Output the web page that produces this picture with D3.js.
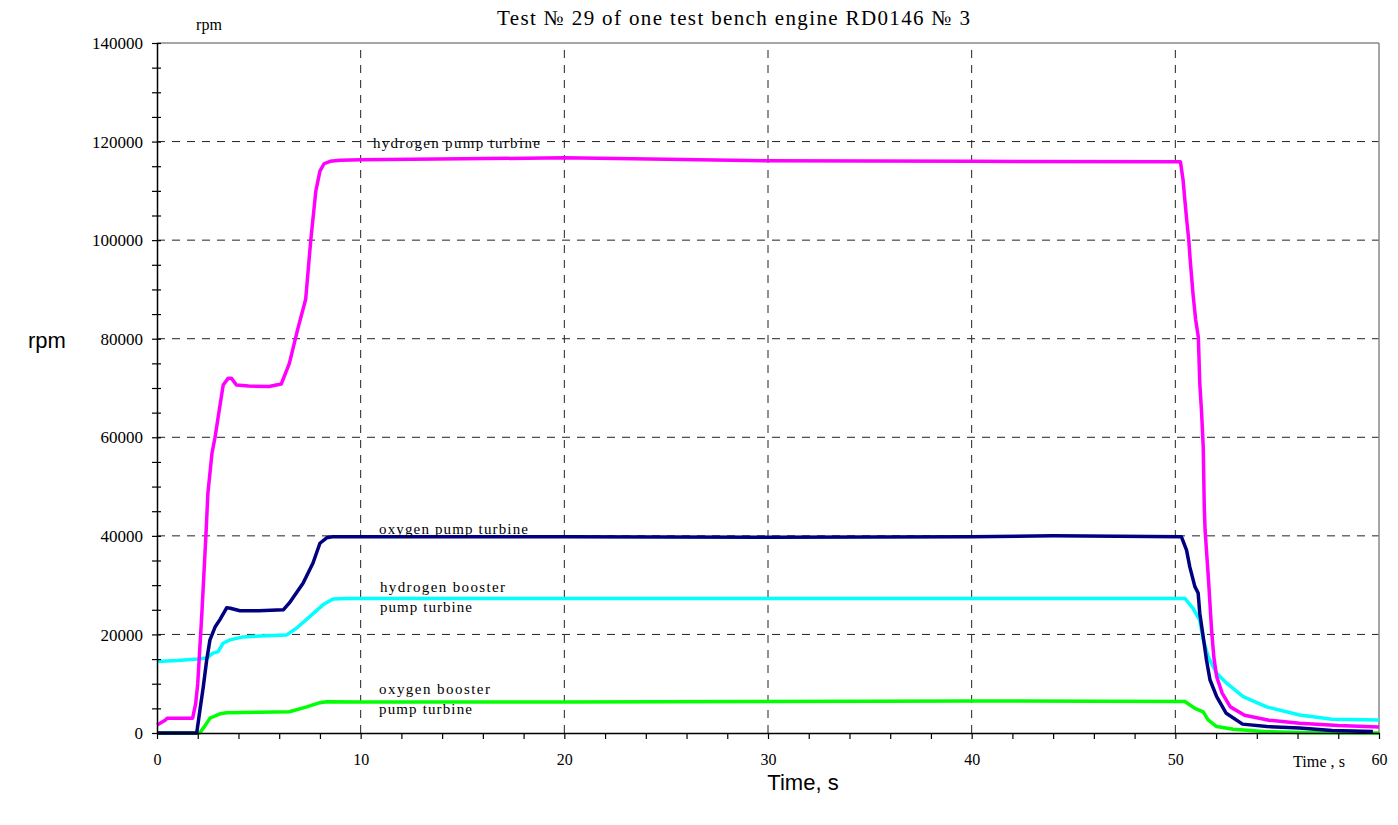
<!DOCTYPE html>
<html><head><meta charset="utf-8">
<script src="https://cdn.jsdelivr.net/npm/d3@7"></script>
<style>
html,body{margin:0;padding:0;background:#fff;}
svg{display:block;}
</style></head>
<body>
<svg id="chart" width="1398" height="825"></svg>
<script>
// ---- data ----
const titleText = "Test № 29 of one test bench engine RD0146 № 3";
const xTickLabels = [0, 10, 20, 30, 40, 50, 60];
const yTickLabels = [0, 20000, 40000, 60000, 80000, 100000, 120000, 140000];

// hydrogen pump turbine
const h_pump_t = [0,0.4,0.5,1.75,1.9,2.0,2.1,2.2,2.3,2.4,2.5,2.7,2.85,3.0,3.25,3.5,3.65,3.9,4.5,5.5,6.1,6.5,6.9,7.3,7.55,7.8,8.0,8.2,8.5,9,10,15,20,25,30,40,50.25,50.38,50.47,50.56,50.66,50.73,50.87,51.0,51.13,51.2,51.29,51.37,51.42,51.46,51.63,51.78,51.89,52.03,52.3,52.7,53.4,54.6,56.1,58,60];
const h_pump_v = [1600,2600,3000,3000,6000,10000,17000,24000,32000,40000,48700,56800,60000,64000,70600,72000,72000,70600,70400,70300,70800,75000,81800,88000,100000,110000,114000,115500,116000,116200,116300,116500,116700,116400,116100,116000,115900,112200,108000,104000,100000,96000,89000,83800,80300,71000,65000,58000,46000,41200,31000,20900,15400,11400,8100,5300,3600,2600,2000,1500,1200];

// oxygen pump turbine
const o_pump_t = [0,1.95,2.11,2.27,2.44,2.6,2.85,3.09,3.42,3.6,4.07,5,6.2,6.5,7.17,7.66,8.0,8.33,8.6,10,20,30,40,44,50.3,50.55,50.71,50.96,51.12,51.2,51.37,51.53,51.7,52.03,52.5,53.3,54.5,56.1,57.7,59.7];
const o_pump_v = [0,0,4700,9300,14800,18900,21500,23000,25400,25300,24800,24800,25000,26400,30400,34500,38500,39600,39800,39800,39800,39700,39800,40000,39800,37100,33700,29700,28400,24300,19500,14800,10800,7400,4000,1800,1300,1000,500,300];

// hydrogen booster pump turbine
const h_boost_t = [0,1,2,2.44,2.75,3.0,3.24,3.58,4.23,5.06,6.37,6.86,7.5,8.15,8.64,9.31,20,40,50.47,50.87,51.2,51.37,51.61,52.03,52.52,53.33,54.48,56.1,57.7,60];
const h_boost_v = [14500,14700,15000,15200,16200,16500,18200,18900,19500,19700,19900,21300,23600,26000,27200,27300,27300,27300,27300,25300,22900,18900,15500,12100,10100,7400,5300,3650,2800,2650];

// oxygen booster pump turbine
const o_boost_t = [0,2.1,2.36,2.6,2.76,3.09,3.42,5,6.5,7.35,8.0,8.33,10,20,30,40,50.47,50.96,51.37,51.61,52.03,52.84,54.5,56.1,60];
const o_boost_v = [0,0,1500,3000,3300,3900,4100,4200,4300,5300,6150,6350,6300,6300,6400,6500,6400,5000,4300,2650,1300,750,260,100,0];

const seriesNames = ["hydrogen pump turbine","oxygen pump turbine","hydrogen booster pump turbine","oxygen booster pump turbine"];
const seriesColors = ["#ff00ff","#000080","#00ffff","#00ff00"];

// annotation labels (in data coordinates)
const annotations = [
  {lines:["hydrogen pump turbine"], t:10.6, v:118700, w:[167]},
  {lines:["oxygen pump turbine"], t:10.9, v:40400, w:[149]},
  {lines:["hydrogen booster","pump turbine"], t:10.95, v:28700, w:[125,92]},
  {lines:["oxygen booster","pump turbine"], t:10.9, v:7900, w:[111,93]}
];

// ---- drawing ----
const svg = d3.select("#chart");
const x = d3.scaleLinear().domain([0,60]).range([157,1379]);
const y = d3.scaleLinear().domain([0,140000]).range([733,43]);
const serif = "'Liberation Serif','Times New Roman',serif";
const sans = "'Liberation Sans',Arial,sans-serif";

// grid
const g = svg.append("g");
g.selectAll("line.hg").data(d3.range(20000,140000,20000)).join("line")
  .attr("x1",x(0)).attr("x2",x(60)).attr("y1",d=>y(d)).attr("y2",d=>y(d))
  .attr("stroke","#222").attr("stroke-width",1).attr("stroke-dasharray","8,7");
g.selectAll("line.vg").data(d3.range(10,60,10)).join("line")
  .attr("x1",d=>x(d)).attr("x2",d=>x(d)).attr("y1",y(0)).attr("y2",y(140000))
  .attr("stroke","#222").attr("stroke-width",1).attr("stroke-dasharray","8,7");

// frame top and right
svg.append("line").attr("x1",x(0)).attr("x2",x(60)).attr("y1",y(140000)).attr("y2",y(140000))
  .attr("stroke","#888").attr("stroke-width",1.5);
svg.append("line").attr("x1",x(60)).attr("x2",x(60)).attr("y1",y(140000)).attr("y2",y(0))
  .attr("stroke","#888").attr("stroke-width",1.5);

// series
const series = [[h_pump_t,h_pump_v],[o_pump_t,o_pump_v],[h_boost_t,h_boost_v],[o_boost_t,o_boost_v]];
const line = d3.line().x(d=>x(d[0])).y(d=>y(d[1]));
const drawOrder = [3,2,1,0];
drawOrder.forEach(i=>{
  const [ts,vs] = series[i];
  const pts = ts.map((t,k)=>[t,vs[k]]);
  svg.append("path").datum(pts).attr("d",line).attr("fill","none")
    .attr("stroke",seriesColors[i]).attr("stroke-width",3.5).attr("stroke-linejoin","round");
});

// y axis
const yAxis = d3.axisLeft(y).tickValues(d3.range(0,140001,5000)).tickSize(5).tickSizeOuter(0)
  .tickFormat(d=> yTickLabels.includes(d) ? String(d) : "");
const ya = svg.append("g").attr("transform",`translate(${x(0)},0)`).call(yAxis);
ya.select(".domain").attr("stroke","#000").attr("stroke-width",1.5);
ya.selectAll(".tick line").attr("x1",4).attr("x2",-5).attr("stroke","#000").attr("stroke-width",1.2);
ya.selectAll(".tick text").attr("x",-14).attr("dy","0.33em")
  .style("font-family",serif).style("font-size","17px").attr("fill","#000");

// x axis
const xAxis = d3.axisBottom(x).tickValues(d3.range(0,61,2)).tickSize(6).tickSizeOuter(0)
  .tickFormat(d=> xTickLabels.includes(d) ? String(d) : "");
const xa = svg.append("g").attr("transform",`translate(0,${y(0)})`).call(xAxis);
xa.select(".domain").attr("stroke","#000").attr("stroke-width",1.5);
xa.selectAll(".tick line").attr("stroke","#000").attr("stroke-width",1.2);
xa.selectAll(".tick text").attr("y",27).attr("dy","0.33em")
  .style("font-family",serif).style("font-size","16px").attr("fill","#000");

// annotations
annotations.forEach(a=>{
  a.lines.forEach((s,k)=>{
    svg.append("text").attr("x",x(a.t)).attr("y",y(a.v)+k*20)
      .attr("textLength",a.w[k]).attr("lengthAdjust","spacing")
      .style("font-family",serif).style("font-size","15px").attr("fill","#000").text(s);
  });
});

// titles
svg.append("text").attr("x",497).attr("y",25).attr("textLength",473).attr("lengthAdjust","spacing")
  .style("font-family",serif).style("font-size","21px").attr("fill","#000").text(titleText);
svg.append("text").attr("x",209).attr("y",30).attr("text-anchor","middle")
  .style("font-family",serif).style("font-size","16px").attr("fill","#000").text("rpm");
svg.append("text").attr("x",1293).attr("y",767).attr("textLength",52).attr("lengthAdjust","spacingAndGlyphs")
  .style("font-family",serif).style("font-size","16px").attr("fill","#000").text("Time , s");
svg.append("text").attr("x",47).attr("y",348).attr("text-anchor","middle")
  .style("font-family",sans).style("font-size","22px").attr("fill","#000").text("rpm");
svg.append("text").attr("x",803).attr("y",790).attr("text-anchor","middle")
  .style("font-family",sans).style("font-size","22px").attr("fill","#000").text("Time, s");
</script>
</body></html>
